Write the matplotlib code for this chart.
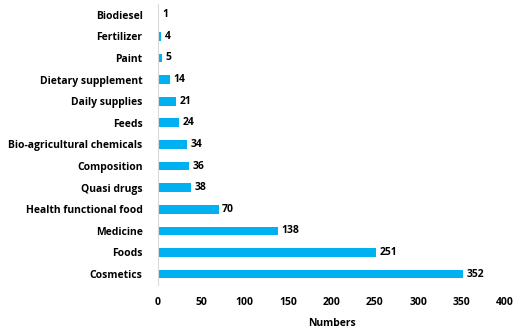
import matplotlib.pyplot as plt

categories = ['Cosmetics', 'Foods', 'Medicine', 'Health functional food', 'Quasi drugs',
              'Composition', 'Bio-agricultural chemicals', 'Feeds', 'Daily supplies',
              'Dietary supplement', 'Paint', 'Fertilizer', 'Biodiesel']
counts = [352, 251, 138, 70, 38, 36, 34, 24, 21, 14, 5, 4, 1]
xticks = [0, 50, 100, 150, 200, 250, 300, 350, 400]

plt.rcParams['font.family'] = ['Open Sans', 'DejaVu Sans']

fig = plt.figure(figsize=(5.16, 3.29), dpi=100)
ax = fig.add_axes([0.306, 0.134, 0.673, 0.854])

y = range(len(categories))
ax.barh(y, counts, height=0.4, color='#00B0F0')
for yi, v in zip(y, counts):
    ax.text(v + 4, yi, str(v), va='center', ha='left', fontsize=7.5, fontweight='bold')

ax.set_xlim(0, 400)
ax.set_ylim(-0.5, len(categories) - 0.5)
ax.set_xticks(xticks)
ax.set_yticks(list(y))
ax.set_yticklabels(categories, fontsize=7.5, fontweight='bold')
ax.set_xticklabels([str(t) for t in xticks], fontsize=7.5, fontweight='bold')
ax.tick_params(axis='y', length=0, pad=11)
ax.tick_params(axis='x', length=0, pad=9)

for s in ['top', 'right', 'bottom']:
    ax.spines[s].set_visible(False)
ax.spines['left'].set_color('#d9d9d9')
ax.spines['left'].set_linewidth(0.8)

ax.set_xlabel('Numbers', fontsize=7.5, fontweight='bold', labelpad=7)

fig.savefig('out.png', dpi=100)
